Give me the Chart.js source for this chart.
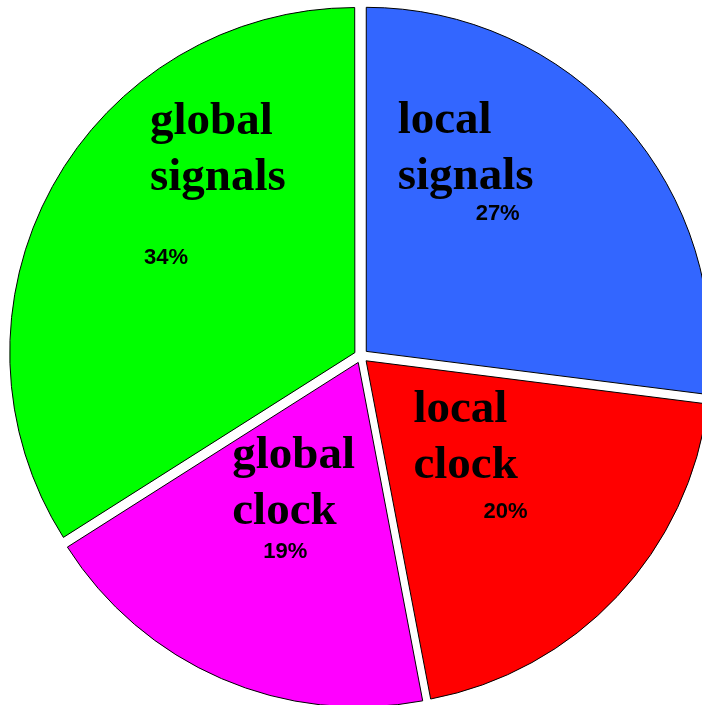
<!DOCTYPE html>
<html>
<head>
<meta charset="utf-8">
<script src="https://cdn.jsdelivr.net/npm/chart.js@4.4.1/dist/chart.umd.min.js"></script>
<style>
  html, body { margin: 0; padding: 0; background: #fff; overflow: hidden; }
  canvas { display: block; }
</style>
</head>
<body>
<canvas id="pie" width="702" height="705"></canvas>
<script>
// wire share by category, clockwise from 12 o'clock
var names = [['local', 'signals'], ['local', 'clock'], ['global', 'clock'], ['global', 'signals']];
var shares = [27, 20, 19, 34];
var colors = ['#3366ff', '#ff0000', '#ff00ff', '#00ff00'];

// where the percentage sits: fraction of radius and turn (deg) off the slice middle
var pctRadius = [0.574, 0.618, 0.612, 0.635];
var pctTurn = [-4.8, 4.0, -2.3, -2.0];
// name block relative to the percentage: left edge and first baseline
var nameDx = [-100, -92, -53, -16];
var nameDy = [-80, -90, -84, -124];

var sliceLabels = {
    id: 'sliceLabels',
    afterDatasetsDraw: function(chart) {
        var ctx = chart.ctx;
        var arcs = chart.getDatasetMeta(0).data;
        var total = shares.reduce(function(a, b) { return a + b; }, 0);
        ctx.save();
        ctx.fillStyle = '#000';
        arcs.forEach(function(arc, i) {
            var p = arc.getProps(['x', 'y', 'startAngle', 'endAngle', 'outerRadius'], true);
            var a = (p.startAngle + p.endAngle) / 2 + pctTurn[i] * Math.PI / 180;
            var r = p.outerRadius * pctRadius[i];
            var px = p.x + Math.cos(a) * r;
            var py = p.y + Math.sin(a) * r;

            ctx.font = 'bold 22px "Liberation Sans", Arial, sans-serif';
            ctx.textAlign = 'center';
            ctx.textBaseline = 'middle';
            ctx.fillText(Math.round(shares[i] / total * 100) + '%', px, py);

            ctx.font = 'bold 47px "Liberation Serif", "Times New Roman", serif';
            ctx.textAlign = 'left';
            ctx.textBaseline = 'alphabetic';
            names[i].forEach(function(line, k) {
                ctx.fillText(line, px + nameDx[i], py + nameDy[i] + k * 56);
            });
        });
        ctx.restore();
    }
};

new Chart(document.getElementById('pie').getContext('2d'), {
    type: 'pie',
    data: {
        labels: names.map(function(n) { return n.join(' '); }),
        datasets: [{
            data: shares,
            backgroundColor: colors,
            borderColor: '#000',
            borderWidth: 1,
            offset: 28,
            clip: false
        }]
    },
    options: {
        responsive: false,
        animation: false,
        radius: 344,
        layout: {
            padding: { left: 20, top: 7, right: 0, bottom: 0 }
        },
        plugins: {
            legend: { display: false },
            tooltip: { enabled: false }
        }
    },
    plugins: [sliceLabels]
});
</script>
</body>
</html>
